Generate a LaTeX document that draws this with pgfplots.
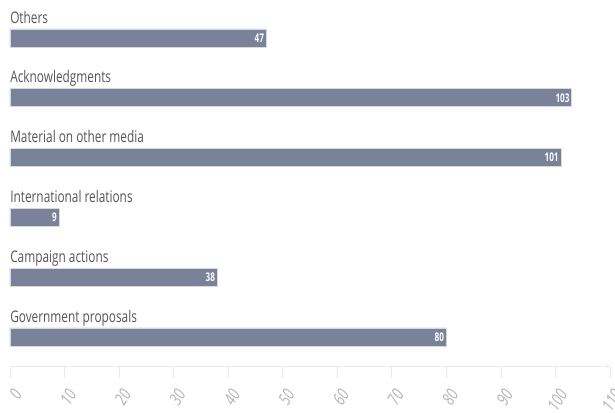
\documentclass[border=0pt]{standalone}
\usepackage{pgfplots}
\pgfplotsset{compat=1.18}
\usepackage{fontspec}
\setmainfont{Open Sans}[FakeStretch=0.74]
\newfontfamily\valfont{Open Sans}[FakeStretch=0.68,BoldFont={* Bold}]
\newfontfamily\tickfont{Open Sans}[FakeStretch=0.75]
\definecolor{barc}{RGB}{122,130,153}
\definecolor{txt}{RGB}{85,85,85}
\definecolor{tickc}{RGB}{180,180,180}
\begin{document}
\begin{tikzpicture}
\begin{axis}[
  scale only axis,
  width=450pt, height=274.5pt,
  xmin=0, xmax=110, ymin=-0.485, ymax=5.635,
  xbar, bar width=13.5pt,
  axis x line=bottom, axis y line=none,
  axis line style={draw=black!8},
  xtick={0,10,...,110},
  tick style={draw=black!8, line width=0.6pt},
  major tick length=9pt,
  tick align=outside,
  xticklabel style={xshift=1.5pt, yshift=-7pt, rotate=58, anchor=north east, font=\tickfont\fontsize{13}{13}\selectfont\itshape, text=tickc, inner sep=0pt},
  /pgf/number format/assume math mode=true,
  ytick=\empty,
  nodes near coords,
  every node near coord/.append style={anchor=east, text=white, font=\valfont\bfseries\fontsize{9}{9}\selectfont, inner sep=1.5pt},
  clip=false,
]
\addplot[fill=barc, draw=black!15, line width=0.5pt] coordinates {
 (80,0) (38,1) (9,2) (101,3) (103,4) (47,5)
};
\foreach \y/\lab in {0/Government proposals,1/Campaign actions,2/International relations,3/Material on other media,4/Acknowledgments,5/Others}{
  \edef\tmp{\noexpand\node[anchor=base west, inner sep=0pt, text=txt, font=\noexpand\fontsize{12}{12}\noexpand\selectfont] at (axis cs:0,\y+0.25) {\lab};}
  \tmp
}
\end{axis}
\pgfresetboundingbox
\path (-7.5pt,-35.25pt) rectangle (453.75pt,274.5pt);
\end{tikzpicture}
\end{document}
